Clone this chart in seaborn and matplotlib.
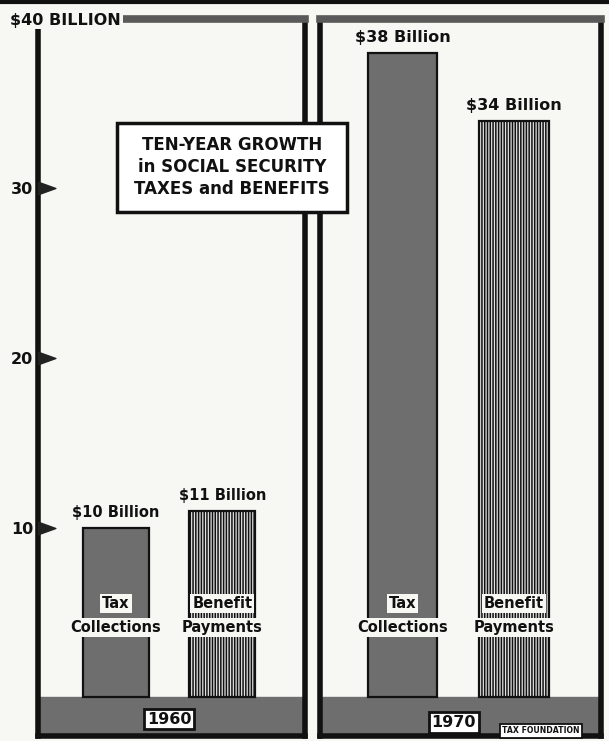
import matplotlib
matplotlib.use("Agg")
import matplotlib.pyplot as plt
import matplotlib.lines as mlines
import matplotlib.patches as mpatches
from matplotlib.path import Path
import seaborn as sns
import pandas as pd

# DATA (billions of dollars)
categories = ["Tax Collections", "Benefit Payments"]
cat_lines = [("Tax", "Collections"), ("Benefit", "Payments")]
years = ["1960", "1970"]
values_1960 = [10, 11]
values_1970 = [38, 34]
value_labels_1960 = ["$10 Billion", "$11 Billion"]
value_labels_1970 = ["$38 Billion", "$34 Billion"]
y_ticks = [10, 20, 30]
y_tick_labels = ["10", "20", "30"]
top_label = "$40 BILLION"
title = "TEN-YEAR GROWTH\nin SOCIAL SECURITY\nTAXES and BENEFITS"
source = "TAX FOUNDATION"

BG = "#f7f7f4"
GRAY = "#6e6e6e"
INK = "#111111"

sns.set_style("white")
plt.rcParams["font.family"] = ["DejaVu Sans"]
plt.rcParams["hatch.linewidth"] = 1.1

fig = plt.figure(figsize=(6.09, 7.41), dpi=100, facecolor=BG)
ax_l = fig.add_axes([0.0616, 0.0067, 0.4392, 0.9677])
ax_r = fig.add_axes([0.5255, 0.0067, 0.4614, 0.9677])

panels = [
    (ax_l, values_1960, value_labels_1960, years[0], 0.5, -1.3),
    (ax_r, values_1970, value_labels_1970, years[1], 0.46, -1.5),
]

for ax, vals, vlabels, year, yx, yy in panels:
    df = pd.DataFrame({"category": categories, "value": vals})
    sns.barplot(data=df, x="category", y="value", hue="category",
                palette=[GRAY, "#e2e2e2"], width=0.62, legend=False,
                edgecolor=INK, linewidth=1.6, ax=ax, zorder=2)
    # vertical stripe texture on benefit bar
    ax.patches[1].set_hatch("||||||")
    ax.patches[1].set_edgecolor(INK)

    ax.set_facecolor(BG)
    ax.set_xlim(-0.74, 1.78)
    ax.set_ylim(-2.3, 40)
    ax.set_xlabel("")
    ax.set_ylabel("")
    ax.set_xticks([])

    # gray base band
    ax.axhspan(-2.3, 0, color=GRAY, zorder=1)

    for side in ["left", "right", "bottom"]:
        ax.spines[side].set_color(INK)
        ax.spines[side].set_linewidth(4)
    ax.spines["top"].set_color("#5a5a5a")
    ax.spines["top"].set_linewidth(5.5)

    # value labels above bars
    for i, (v, lab) in enumerate(zip(vals, vlabels)):
        ax.text(i, v + 0.45, lab, ha="center", va="bottom",
                fontsize=10.5 if v < 20 else 11.5, fontweight="bold",
                color=INK, zorder=4)

    # category labels cutting across the bars
    for i, (l1, l2) in enumerate(cat_lines):
        ax.text(i, 5.5, l1, ha="center", va="center", fontsize=10.5,
                fontweight="bold", color=INK, zorder=5,
                bbox=dict(boxstyle="square,pad=0.15", fc=BG, ec="none"))
        ax.text(i, 4.1, l2, ha="center", va="center", fontsize=10.5,
                fontweight="bold", color=INK, zorder=5,
                bbox=dict(boxstyle="square,pad=0.15", fc=BG, ec="none"))

    # year box in base band
    ax.text(yx, yy, year, ha="center", va="center", fontsize=11.5,
            fontweight="bold", color=INK, zorder=5,
            bbox=dict(boxstyle="square,pad=0.18", fc="white", ec=INK, lw=2))

# y axis on left panel only, with flag-shaped tick markers
ax_l.set_yticks(y_ticks)
ax_l.set_yticklabels(y_tick_labels, fontsize=11.5, fontweight="bold", color=INK)
ax_l.tick_params(axis="y", length=0, pad=3)
flag = Path([(0, -0.36), (1, 0), (0, 0.36), (0, -0.36)],
            [Path.MOVETO, Path.LINETO, Path.LINETO, Path.CLOSEPOLY])
ax_l.plot([ax_l.get_xlim()[0]] * len(y_ticks), y_ticks, ls="none",
          marker=flag, ms=25, color="#222222", clip_on=False, zorder=6)
ax_r.set_yticks([])

fig.text(0.017, 0.973, top_label, ha="left", va="center", fontsize=11.5,
         fontweight="bold", color=INK, zorder=12,
         bbox=dict(boxstyle="square,pad=0.12", fc=BG, ec="none"))

ax_r.text(1.24, -2.0, source, ha="center", va="center", fontsize=5.6,
          fontweight="bold", color=INK, zorder=5,
          bbox=dict(boxstyle="square,pad=0.3", fc="white", ec=INK, lw=1.3))

# title box straddling the two panels
fig.add_artist(mpatches.Rectangle((117 / 609, 1 - 212 / 741), 230 / 609, 89 / 741,
                                  transform=fig.transFigure, fc="white",
                                  ec=INK, lw=2.5, zorder=9))
fig.text(232 / 609, 1 - 167 / 741, title, ha="center", va="center",
         fontsize=12, fontweight="bold", color=INK, linespacing=1.25,
         zorder=10)

# newspaper rule at the very top
fig.add_artist(mlines.Line2D([0, 1], [0.997, 0.997], color=INK, lw=3))

fig.savefig("out.png", dpi=100, facecolor=BG)
